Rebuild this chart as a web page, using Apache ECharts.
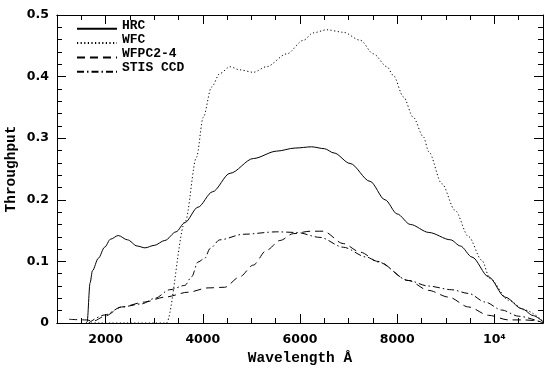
<!DOCTYPE html>
<html><head><meta charset="utf-8">
<script src="https://cdn.jsdelivr.net/npm/echarts@6/dist/echarts.min.js"></script>
<style>html,body{margin:0;padding:0;background:#fff}#c{width:548px;height:379px}</style>
</head><body><div id="c"></div>
<script>
const seriesNames = ['HRC', 'WFC', 'WFPC2-4', 'STIS CCD'];

const hrcWave = [1600, 1620, 1680, 1730, 1850, 1980, 2100, 2260, 2450, 2650, 2810, 3000, 3220, 3450, 3630, 3900, 4200, 4560, 5040, 5520, 5900, 6240, 6500, 6700, 7030, 7440, 7750, 8000, 8270, 8650, 9100, 9300, 9540, 9880, 10220, 10570, 10800, 11000];
const hrcThru = [0, 0.002, 0.065, 0.085, 0.105, 0.123, 0.136, 0.142, 0.135, 0.125, 0.122, 0.126, 0.134, 0.148, 0.163, 0.188, 0.213, 0.243, 0.267, 0.279, 0.284, 0.286, 0.283, 0.276, 0.259, 0.230, 0.200, 0.177, 0.160, 0.147, 0.135, 0.125, 0.107, 0.075, 0.042, 0.023, 0.012, 0.002];

const wfcWave = [1700, 3250, 3640, 3870, 4010, 4180, 4350, 4560, 4760, 5040, 5310, 5730, 6070, 6270, 6550, 6890, 7240, 7510, 7790, 7920, 8130, 8330, 8540, 8650, 8920, 9190, 9470, 9740, 9910, 10290, 10630, 11000];
const wfcThru = [0, 0, 0.165, 0.269, 0.334, 0.383, 0.405, 0.416, 0.411, 0.407, 0.416, 0.437, 0.459, 0.471, 0.476, 0.472, 0.459, 0.437, 0.416, 0.402, 0.367, 0.334, 0.302, 0.278, 0.226, 0.183, 0.140, 0.102, 0.072, 0.037, 0.021, 0.003];

const wfpcWave = [1250, 1600, 1750, 1980, 2330, 2800, 3220, 3700, 4110, 4450, 4760, 5040, 5310, 5590, 5860, 6210, 6480, 6890, 7240, 7600, 8230, 8640, 9060, 9470, 9880, 10290, 10600, 10850, 11000];
const wfpcThru = [0.006, 0.005, 0.003, 0.011, 0.026, 0.034, 0.042, 0.050, 0.057, 0.058, 0.075, 0.094, 0.118, 0.134, 0.145, 0.149, 0.149, 0.129, 0.115, 0.100, 0.069, 0.053, 0.042, 0.026, 0.0125, 0.005, 0.005, 0.004, 0];

const stisWave = [1650, 1980, 2330, 2740, 3010, 3320, 3630, 3770, 3900, 4040, 4150, 4350, 4830, 5520, 5930, 6410, 6890, 7370, 7610, 8230, 8640, 9120, 9470, 9810, 10150, 10500, 11000];
const stisThru = [0, 0.013, 0.026, 0.031, 0.040, 0.054, 0.061, 0.075, 0.099, 0.105, 0.121, 0.135, 0.144, 0.148, 0.147, 0.139, 0.123, 0.107, 0.099, 0.069, 0.060, 0.054, 0.048, 0.034, 0.021, 0.011, 0];

const xMajorTicks = [2000, 4000, 6000, 8000, 10000];
const xMajorLabels = ['2000', '4000', '6000', '8000', '10⁴'];
const yTickLabels = ['0', '0.1', '0.2', '0.3', '0.4', '0.5'];

function zip(w, t) { return w.map((v, i) => [v, t[i]]); }

const black = '#000';
const tickFont = { fontFamily: 'DejaVu Sans', fontWeight: 'bold', fontSize: 12.5, color: black };
const monoFont = { fontFamily: 'Liberation Mono', fontWeight: 'bold', color: black };

function xAxisDef(pos, major, withLabel) {
  return {
    type: 'value', position: pos, min: 1000, max: 11000, interval: 500,
    axisLine: { show: true, lineStyle: { color: black, width: 1 } },
    axisTick: major
      ? { show: true, inside: true, length: 9, customValues: xMajorTicks, lineStyle: { color: black } }
      : { show: true, inside: true, length: 5, lineStyle: { color: black } },
    axisLabel: withLabel
      ? Object.assign({ show: true, margin: 10, customValues: xMajorTicks,
          formatter: v => xMajorLabels[xMajorTicks.indexOf(v)] }, tickFont)
      : { show: false },
    splitLine: { show: false },
    name: withLabel ? 'Wavelength Å' : '',
    nameLocation: 'middle', nameGap: 27,
    nameTextStyle: Object.assign({ fontSize: 14.5 }, monoFont)
  };
}

function yAxisDef(pos, withLabel) {
  return {
    type: 'value', position: pos, min: 0, max: 0.5, interval: 0.1,
    axisLine: { show: true, lineStyle: { color: black, width: 1 } },
    axisTick: { show: true, inside: true, length: 9, lineStyle: { color: black } },
    minorTick: { show: true, splitNumber: 5, length: 5, lineStyle: { color: black } },
    axisLabel: withLabel
      ? Object.assign({ show: true, margin: 8,
          formatter: v => yTickLabels[Math.round(v * 10)] }, tickFont)
      : { show: false },
    splitLine: { show: false },
    minorSplitLine: { show: false },
    name: withLabel ? 'Throughput' : '',
    nameLocation: 'middle', nameGap: 38, nameRotate: 90, nameMoveOverlap: false,
    nameTextStyle: Object.assign({ fontSize: 14.5 }, monoFont)
  };
}

const styles = [
  { type: 'solid' },
  { type: [1.2, 2.4] },
  { type: [8, 5] },
  { type: [7, 3, 1.5, 3] }
];
const datasets = [zip(hrcWave, hrcThru), zip(wfcWave, wfcThru), zip(wfpcWave, wfpcThru), zip(stisWave, stisThru)];

const chart = echarts.init(document.getElementById('c'), null, { renderer: 'canvas' });
chart.setOption({
  animation: false,
  backgroundColor: '#fff',
  grid: { left: 57, right: 5, top: 15, bottom: 56, containLabel: false, outerBoundsMode: 'none' },
  xAxis: [
    xAxisDef('bottom', false, true),
    xAxisDef('bottom', true, false),
    xAxisDef('top', false, false),
    xAxisDef('top', true, false)
  ],
  yAxis: [yAxisDef('left', true), yAxisDef('right', false)],
  legend: {
    orient: 'vertical', left: 76, top: 18.8, padding: 0,
    itemWidth: 40, itemHeight: 14, itemGap: -5.7,
    data: seriesNames,
    itemStyle: { color: 'transparent', borderWidth: 0, opacity: 0 },
    formatter: '{a|{name}}',
    textStyle: Object.assign({
      fontSize: 13,
      rich: { a: Object.assign({ fontSize: 13, lineHeight: 14, padding: [0, 0, 7, 0] }, monoFont) }
    }, monoFont),
    selectedMode: false
  },
  series: seriesNames.map((n, i) => ({
    type: 'line', name: n, data: datasets[i],
    xAxisIndex: 0, yAxisIndex: 0,
    symbol: 'none', showSymbol: false,
    smooth: 0.3, smoothMonotone: 'x',
    lineStyle: Object.assign({ color: black, width: 1 }, styles[i]),
    itemStyle: { color: black },
    silent: true
  }))
});
</script></body></html>
